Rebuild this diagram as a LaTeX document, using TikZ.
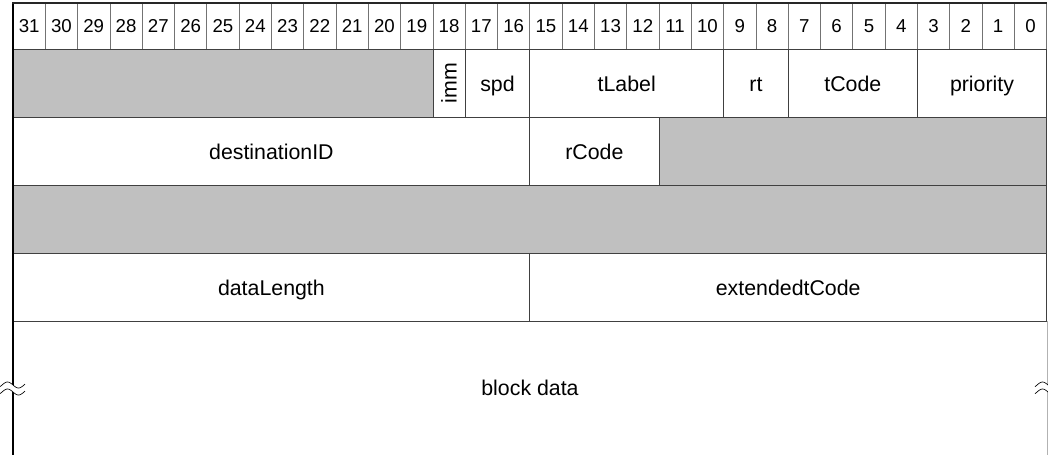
\documentclass[tikz,border=0pt]{standalone}
\usepackage{fontspec}
\setmainfont{Liberation Sans}
\definecolor{resgray}{HTML}{C0C0C0}
\newcommand{\bitw}{24.225pt}

\begin{document}
\begin{tikzpicture}[x=0.75pt, y=-0.75pt,
    bitnum/.style={draw=black!55, line width=0.5pt, minimum width=\bitw, minimum height=34.5pt, inner sep=0pt, text height=10pt, text depth=0pt, font=\fontsize{14}{15}\selectfont},
    field/.style={draw=black!75, line width=0.6pt, minimum height=51pt, inner sep=0pt, text height=14pt, text depth=1.3pt, font=\fontsize{16}{17}\selectfont},
    reserved/.style={field, fill=resgray},
    wave/.style={line width=0.5pt, smooth, samples=30, domain=-13:12}]
    \useasboundingbox (0,0) rectangle (1048,454);

    %Nodes
    \foreach \b in {0,...,31}
        \node[bitnum] (bit\b) at ({13+(31.5-\b)*32.3}, 26) {\b};

    \node[reserved, minimum width=13*\bitw] (res1) at (222.95, 83) {};
    \node[field, rotate=90, minimum width=51pt, minimum height=\bitw, text height=11.5pt, text depth=0pt] (imm) at (449.05, 83) {imm};
    \node[field, minimum width=2*\bitw] (spd) at (497.5, 83) {spd};
    \node[field, minimum width=6*\bitw] (tLabel) at (626.7, 83) {tLabel};
    \node[field, minimum width=2*\bitw] (rt) at (755.9, 83) {rt};
    \node[field, minimum width=4*\bitw] (tCode) at (852.8, 83) {tCode};
    \node[field, minimum width=4*\bitw] (priority) at (982, 83) {priority};

    \node[field, minimum width=16*\bitw] (destID) at (271.4, 151) {destinationID};
    \node[field, minimum width=4*\bitw] (rCode) at (594.4, 151) {rCode};
    \node[reserved, minimum width=12*\bitw] (res2) at (852.8, 151) {};

    \node[reserved, minimum width=32*\bitw] (res3) at (530, 219) {};

    \node[field, minimum width=16*\bitw] (dataLength) at (271.4, 287) {dataLength};
    \node[field, minimum width=16*\bitw] (extCode) at (788.2, 287) {extendedtCode};

    \node[font=\fontsize{16}{17}\selectfont, text height=12.5pt, text depth=1.3pt] (blockdata) at (530, 388) {block data};

    %Lines
    \draw[black!30, line width=0.6pt] (1047, 321) -- (1047, 456);
    \draw[line width=2.2pt] (13, 2) -- (13, 456);
    \draw[black!85, line width=1.5pt] (12, 3) -- (1047, 3);

    %Break marks
    \foreach \cx in {13, 1048} {
        \fill[white] plot ({\cx+\x}, {385+3*sin(\x*16.4)}) -- plot[domain=12:-13] ({\cx+\x}, {392+3*sin(\x*16.4)}) -- cycle;
        \draw[wave] plot ({\cx+\x}, {385+3*sin(\x*16.4)});
        \draw[wave] plot ({\cx+\x}, {392+3*sin(\x*16.4)});
    }

\end{tikzpicture}
\end{document}
